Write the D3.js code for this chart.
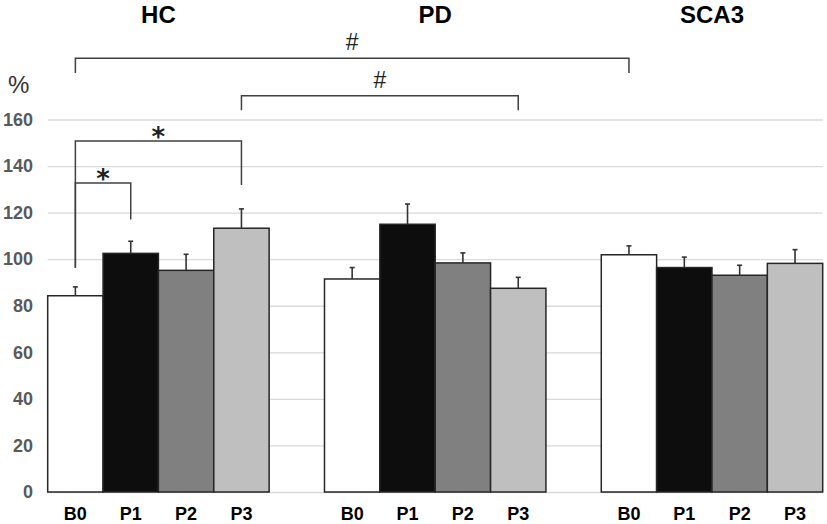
<!DOCTYPE html>
<html>
<head>
<meta charset="utf-8">
<title>HC / PD / SCA3</title>
<style>
  body { margin: 0; background: #fff; }
  svg { display: block; font-family: 'Liberation Sans', Arial, sans-serif; }
  .y .domain { display: none; }
  .y .tick line { stroke: #d9d9d9; stroke-width: 1.3; }
  .y .tick text { font-size: 18px; font-weight: bold; fill: #595959; }
  .group-title { font-size: 24px; font-weight: bold; fill: #000; }
  .bar-label { font-size: 18px; font-weight: bold; fill: #000; }
</style>
</head>
<body>
<svg width="827" height="524"></svg>

<script src="https://d3js.org/d3.v7.min.js"></script>
<script>
let groups = ["HC", "PD", "SCA3"];
let phases = ["B0", "P1", "P2", "P3"];

// mean % per phase, one array per group
let hcMeans   = [84.3, 102.5, 95.2, 113.3];
let pdMeans   = [91.5, 115.0, 98.4, 87.5];
let sca3Means = [101.9, 96.4, 93.1, 98.2];

// upper error (SE) per phase
let hcErrors   = [3.8, 5.2, 6.9, 8.3];
let pdErrors   = [4.9, 8.7, 4.3, 4.7];
let sca3Errors = [3.8, 4.5, 4.3, 5.9];

let yTicks = [0, 20, 40, 60, 80, 100, 120, 140, 160];

// significance brackets: ends as [group, phase], bar level and leg ends in % units
let bracketFrom   = [["HC", "B0"], ["HC", "P3"], ["HC", "B0"], ["HC", "B0"]];
let bracketTo     = [["SCA3", "B0"], ["PD", "P3"], ["HC", "P3"], ["HC", "P1"]];
let bracketLevel  = [186.3, 170.2, 150.8, 132.7];
let bracketLeftEnd  = [180, 164, 96.3, 96.3];
let bracketRightEnd = [180, 164, 131.9, 117.1];
let bracketMarks  = ["#", "#", "*", "*"];

let fills = { B0: "#ffffff", P1: "#0d0d0d", P2: "#808080", P3: "#bfbfbf" };

let means = { HC: hcMeans, PD: pdMeans, SCA3: sca3Means };
let errors = { HC: hcErrors, PD: pdErrors, SCA3: sca3Errors };

let data = [];
groups.forEach(g => {
    phases.forEach((p, i) => {
        data.push({ group: g, phase: p, value: means[g][i], err: errors[g][i] });
    });
});

let svg = d3.select("svg");

let x0 = d3.scaleBand()
    .domain(groups)
    .range([47.7, 822.7])
    .paddingInner(0.2)
    .paddingOuter(0);

let x1 = d3.scaleBand()
    .domain(phases)
    .range([0, x0.bandwidth()])
    .padding(0);

let y = d3.scaleLinear()
    .domain([0, 160])
    .range([492, 119.5]);

let plotWidth = x0.range()[1] - x0.range()[0];

// gridlines + tick labels
svg.append("g")
    .attr("class", "y axis")
    .attr("transform", `translate(${x0.range()[0]},0)`)
    .call(d3.axisLeft(y)
        .tickValues(yTicks)
        .tickSizeInner(-plotWidth)
        .tickSizeOuter(0)
        .tickPadding(14.7));

svg.append("text")
    .attr("x", 8)
    .attr("y", 93)
    .style("font-size", "24px")
    .style("fill", "#333")
    .text("%");

// bars
let cx = d => x0(d.group) + x1(d.phase) + x1.bandwidth() / 2;

svg.append("g")
    .selectAll("rect")
    .data(data)
    .join("rect")
    .attr("x", d => x0(d.group) + x1(d.phase))
    .attr("y", d => y(d.value))
    .attr("width", x1.bandwidth())
    .attr("height", d => y(0) - y(d.value))
    .attr("fill", d => fills[d.phase])
    .attr("stroke", "#262626")
    .attr("stroke-width", 1.5);

// error bars (upper only)
let errG = svg.append("g")
    .attr("stroke", "#333")
    .attr("stroke-width", 1.6);

errG.selectAll("line.stem")
    .data(data)
    .join("line")
    .attr("class", "stem")
    .attr("x1", cx)
    .attr("x2", cx)
    .attr("y1", d => y(d.value))
    .attr("y2", d => y(d.value + d.err));

errG.selectAll("line.cap")
    .data(data)
    .join("line")
    .attr("class", "cap")
    .attr("x1", d => cx(d) - 2.5)
    .attr("x2", d => cx(d) + 2.5)
    .attr("y1", d => y(d.value + d.err))
    .attr("y2", d => y(d.value + d.err));

// group titles
svg.append("g")
    .selectAll("text")
    .data(groups)
    .join("text")
    .attr("class", "group-title")
    .attr("x", g => x0(g) + x0.bandwidth() / 2)
    .attr("y", 22.7)
    .attr("text-anchor", "middle")
    .text(g => g);

// phase labels under the bars
svg.append("g")
    .selectAll("text")
    .data(data)
    .join("text")
    .attr("class", "bar-label")
    .attr("x", cx)
    .attr("y", 520)
    .attr("text-anchor", "middle")
    .text(d => d.phase);

// significance brackets
let pos = ([g, p]) => x0(g) + x1(p) + x1.bandwidth() / 2;

let brackets = bracketMarks.map((m, i) => ({
    xa: pos(bracketFrom[i]),
    xb: pos(bracketTo[i]),
    level: bracketLevel[i],
    left: bracketLeftEnd[i],
    right: bracketRightEnd[i],
    mark: m
}));

svg.append("g")
    .selectAll("path")
    .data(brackets)
    .join("path")
    .attr("fill", "none")
    .attr("stroke", "#404040")
    .attr("stroke-width", 1.5)
    .attr("d", b => `M${b.xa},${y(b.left)}V${y(b.level)}H${b.xb}V${y(b.right)}`);

svg.append("g")
    .selectAll("text")
    .data(brackets)
    .join("text")
    .attr("x", b => (b.xa + b.xb) / 2)
    .attr("y", b => b.mark == "#" ? y(b.level) - 8 : y(b.level) + 5)
    .attr("text-anchor", "middle")
    .style("font-family", b => b.mark == "#" ? "'Liberation Sans', Arial, sans-serif" : "'DejaVu Sans', sans-serif")
    .style("font-size", b => b.mark == "#" ? "23px" : "26px")
    .style("font-weight", b => b.mark == "#" ? "normal" : "bold")
    .style("fill", "#222")
    .text(b => b.mark);
</script>
</body>
</html>
